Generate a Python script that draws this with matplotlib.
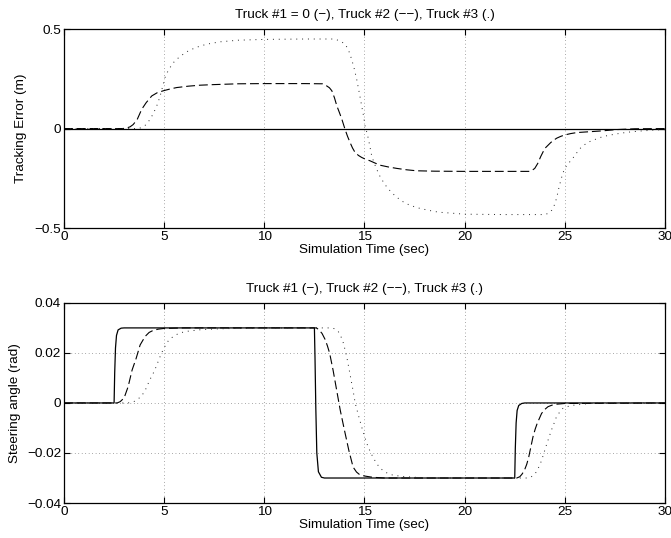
import matplotlib
matplotlib.use("Agg")
import matplotlib.pyplot as plt
from matplotlib import font_manager

# ---- tracking error (m) -------------------------------------------------
t_err_truck1 = [0, 30]
err_truck1 = [0, 0]

t_err_truck2 = [0, 2.9, 3.1, 3.3, 3.45, 3.65, 3.88, 4.1, 4.38, 4.65, 4.96, 5.3,
                5.62, 6.2, 6.8, 7.5, 8.7, 10, 12.0, 12.9, 13.12, 13.25, 13.37,
                13.5, 13.62, 13.75, 13.87, 14.03, 14.15, 14.28, 14.4, 14.53,
                14.7, 14.86, 15.05, 15.28, 15.5, 15.78, 16.2, 16.61, 17.1, 17.6,
                18.5, 20, 22, 23.2, 23.35, 23.5, 23.65, 23.8, 24.0, 24.15, 24.3,
                24.45, 24.6, 24.8, 25.0, 25.3, 25.6, 26.2, 26.8, 27.6, 28.5, 30]
err_truck2 = [0, 0, 0.002, 0.009, 0.02, 0.045, 0.097, 0.13, 0.164, 0.18, 0.19,
              0.199, 0.206, 0.213, 0.218, 0.221, 0.225, 0.226, 0.226, 0.225,
              0.214, 0.205, 0.19, 0.155, 0.114, 0.08, 0.047, -0.004, -0.038,
              -0.07, -0.097, -0.12, -0.135, -0.145, -0.154, -0.162, -0.172,
              -0.184, -0.193, -0.2, -0.207, -0.212, -0.214, -0.215, -0.215,
              -0.215, -0.211, -0.2, -0.175, -0.14, -0.1, -0.085, -0.07, -0.058,
              -0.048, -0.039, -0.032, -0.025, -0.02, -0.016, -0.012, -0.005,
              -0.001, 0]

t_err_truck3 = [0, 3.7, 3.9, 4.1, 4.3, 4.47, 4.63, 4.79, 4.92, 5.04, 5.16, 5.29,
                5.45, 5.62, 5.9, 6.2, 6.6, 7.12, 7.8, 8.7, 10, 12, 13.5, 13.78,
                14.03, 14.2, 14.36, 14.49, 14.61, 14.74, 14.86, 14.95, 15.03,
                15.12, 15.2, 15.28, 15.36, 15.48, 15.61, 15.73, 15.86, 16.05,
                16.28, 16.55, 16.86, 17.2, 17.61, 18.17, 18.7, 19.24, 20, 22,
                24.0, 24.2, 24.35, 24.5, 24.6, 24.7, 24.8, 24.9, 25.0, 25.15,
                25.35, 25.55, 25.76, 26.0, 26.2, 26.5, 26.76, 27.05, 27.4, 27.8,
                28.26, 28.8, 29.4, 30]
err_truck3 = [0, 0, 0.006, 0.02, 0.047, 0.078, 0.114, 0.16, 0.21, 0.256, 0.283,
              0.306, 0.33, 0.348, 0.37, 0.39, 0.408, 0.424, 0.436, 0.444, 0.448,
              0.45, 0.45, 0.44, 0.425, 0.395, 0.348, 0.3, 0.248, 0.18, 0.114,
              0.065, 0.013, -0.02, -0.054, -0.095, -0.137, -0.172, -0.204,
              -0.232, -0.255, -0.285, -0.313, -0.34, -0.364, -0.382, -0.397,
              -0.41, -0.42, -0.424, -0.43, -0.432, -0.432, -0.425, -0.41, -0.38,
              -0.345, -0.3, -0.26, -0.225, -0.2, -0.178, -0.156, -0.128, -0.1,
              -0.08, -0.067, -0.055, -0.045, -0.037, -0.03, -0.023, -0.017,
              -0.012, -0.008, -0.005]

# ---- steering angle (rad) -----------------------------------------------
t_steer_truck1 = [0, 2.5, 2.53, 2.57, 2.62, 2.7, 2.85, 3.0, 12.5, 12.53, 12.57,
                  12.62, 12.7, 12.85, 13.0, 22.5, 22.53, 22.57, 22.62, 22.7,
                  22.85, 23.0, 30]
steer_truck1 = [0, 0, 0.012, 0.022, 0.027, 0.0292, 0.0299, 0.03, 0.03, 0.018,
                -0.002, -0.02, -0.0275, -0.0297, -0.03, -0.03, -0.018, -0.008,
                -0.003, -0.001, -0.0002, 0, 0]

t_steer_truck2 = [0, 2.65, 2.8, 3.0, 3.2, 3.4, 3.6, 3.8, 4.05, 4.25, 4.45, 4.7,
                  5.0, 6, 12.6, 12.72, 12.88, 13.04, 13.15, 13.26, 13.43, 13.64,
                  13.79, 14.0, 14.22, 14.43, 14.6, 14.75, 15.0, 15.4, 16.0,
                  22.6, 22.75, 22.86, 22.98, 23.1, 23.2, 23.3, 23.41, 23.52,
                  23.62, 23.84, 24.0, 24.16, 24.35, 24.58, 25, 30]
steer_truck2 = [0, 0, 0.0005, 0.002, 0.0065, 0.0132, 0.0178, 0.0232, 0.0266,
                0.0282, 0.029, 0.0295, 0.0298, 0.03, 0.03, 0.0293, 0.0278,
                0.0253, 0.0228, 0.0199, 0.0132, 0.0038, -0.0029, -0.0109,
                -0.019, -0.0256, -0.0276, -0.0286, -0.0292, -0.0297, -0.03,
                -0.03, -0.0295, -0.0285, -0.027, -0.0245, -0.0216, -0.0178,
                -0.0136, -0.0105, -0.0082, -0.0042, -0.0026, -0.0015, -0.0009,
                -0.0005, -0.0002, 0]

t_steer_truck3 = [0, 3.2, 3.5, 3.85, 4.05, 4.28, 4.45, 4.6, 4.73, 4.87, 5.05,
                  5.24, 5.5, 5.77, 6.2, 6.84, 7.6, 8.55, 10, 13.3, 13.5, 13.69,
                  13.9, 14.0, 14.11, 14.22, 14.33, 14.44, 14.54, 14.7, 14.86,
                  15.02, 15.18, 15.4, 15.61, 15.82, 16.04, 16.4, 16.9, 17.5,
                  18.17, 23.1, 23.3, 23.52, 23.65, 23.78, 23.92, 24.05, 24.2,
                  24.33, 24.46, 24.58, 24.74, 24.9, 25.15, 25.44, 26.0, 26.7, 30]
steer_truck3 = [0, 0, 0.0006, 0.0025, 0.005, 0.0092, 0.0118, 0.0145, 0.0172,
                0.02, 0.0228, 0.0253, 0.0268, 0.028, 0.0287, 0.0293, 0.0296,
                0.0298, 0.03, 0.03, 0.0297, 0.0286, 0.0253, 0.0222, 0.0186,
                0.014, 0.0092, 0.0045, -0.0002, -0.005, -0.0096, -0.0138,
                -0.0176, -0.0213, -0.0243, -0.0263, -0.0277, -0.0288, -0.0294,
                -0.0297, -0.03, -0.03, -0.0297, -0.0283, -0.0265, -0.0243,
                -0.021, -0.0176, -0.014, -0.0109, -0.0082, -0.0056, -0.0037,
                -0.0022, -0.0014, -0.0009, -0.0004, 0, 0]

x_ticks = [0, 5, 10, 15, 20, 25, 30]
err_ticks = [-0.5, 0, 0.5]
steer_ticks = [-0.04, -0.02, 0, 0.02, 0.04]

title_err = "Truck #1 = 0 (\u2212), Truck #2 (\u2212\u2212), Truck #3 (.)"
title_steer = "Truck #1 (\u2212), Truck #2 (\u2212\u2212), Truck #3 (.)"
xlabel = "Simulation Time (sec)"
ylabel_err = "Tracking Error (m)"
ylabel_steer = "Steering angle (rad)"

installed = {f.name for f in font_manager.fontManager.ttflist}
family = "Liberation Sans Narrow" if "Liberation Sans Narrow" in installed else "Liberation Sans"
plt.rcParams["font.family"] = [family, "DejaVu Sans"]
FS = 9.7
plt.rcParams["font.size"] = FS

fig = plt.figure(figsize=(6.71, 5.38), dpi=100)
ax1 = fig.add_axes([0.0954, 0.576, 0.8956, 0.370])
ax2 = fig.add_axes([0.0954, 0.065, 0.8956, 0.372])

solid = dict(color="black", lw=0.9, linestyle="-")
dashed = dict(color="black", lw=0.8, linestyle=(0, (8, 3.5)))
dotted = dict(color="0.15", lw=0.7, linestyle=(0, (1, 5)))


def style(ax, yticks, ylim):
    ax.set_xlim(0, 30)
    ax.set_ylim(*ylim)
    ax.set_xticks(x_ticks)
    ax.set_yticks(yticks)
    ax.set_yticklabels([("%g" % v).replace("-", "\u2212") for v in yticks])
    ax.grid(True, color="0.35", lw=0.5, linestyle=(0, (1, 4)))
    ax.tick_params(direction="in", length=4, width=0.8, top=True, right=True,
                   labelsize=FS, pad=2)
    for s in ax.spines.values():
        s.set_linewidth(0.9)
    ax.set_xlabel(xlabel, fontsize=FS, labelpad=1)


ax1.plot(t_err_truck1, err_truck1, **solid)
ax1.plot(t_err_truck2, err_truck2, **dashed)
ax1.plot(t_err_truck3, err_truck3, **dotted)
style(ax1, err_ticks, (-0.5, 0.5))
ax1.set_title(title_err, fontsize=FS, pad=8)
ax1.set_ylabel(ylabel_err, fontsize=FS, labelpad=5.5)

ax2.plot(t_steer_truck1, steer_truck1, **solid)
ax2.plot(t_steer_truck2, steer_truck2, **dashed)
ax2.plot(t_steer_truck3, steer_truck3, **dotted)
style(ax2, steer_ticks, (-0.04, 0.04))
ax2.set_title(title_steer, fontsize=FS, pad=8)
ax2.set_ylabel(ylabel_steer, fontsize=FS, labelpad=4)

fig.savefig("out.png", dpi=100)
